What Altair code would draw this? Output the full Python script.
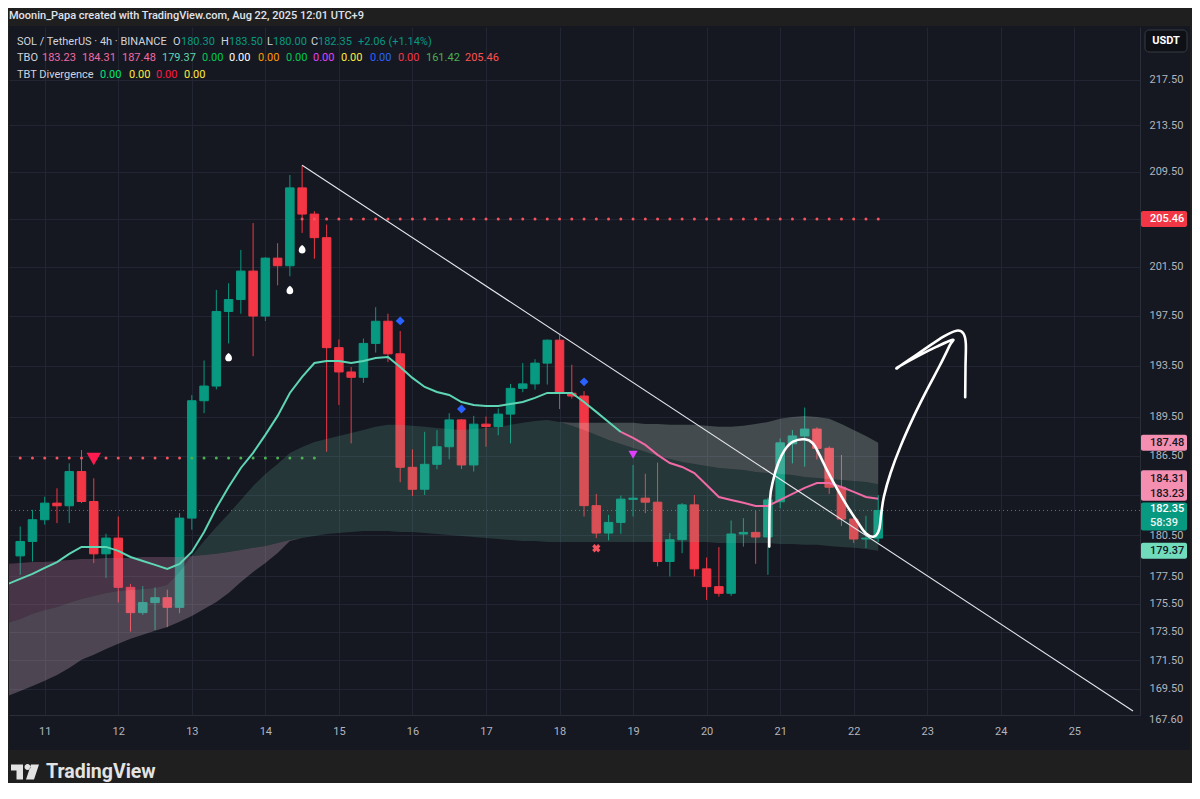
import altair as alt
import pandas as pd

# ---------------- values ----------------
first_candle = "2025-08-10 16:00"      # 4h candles, shown in UTC+9
axis_origin = "2025-08-11 00:00"       # the "11" tick on the time axis
tbo_start = "2025-08-10 12:00"         # indicator values start one bar earlier

opens = [178.99, 180.05, 181.66, 182.90, 182.70, 185.28, 183.02, 179.14, 180.30, 176.70,
         174.88, 175.60, 175.95, 175.26, 181.78, 190.73, 191.88, 197.83, 198.80, 201.13,
         197.46, 202.20, 201.57, 208.10, 205.88, 203.90, 194.92, 192.99, 192.57, 195.26,
         197.04, 194.43, 185.60, 183.94, 185.83, 187.17, 189.24, 185.78, 188.91, 188.73,
         189.69, 191.70, 192.05, 193.69, 195.52, 191.32, 191.10, 182.71, 180.67, 181.46,
         183.18, 183.27, 182.97, 178.58, 180.18, 182.77, 178.04, 176.75, 176.27, 180.60,
         180.72, 180.38, 183.00, 187.40, 188.00, 188.53, 187.05, 184.09, 181.71, 180.23, 180.30]
highs = [181.16, 182.40, 183.38, 184.01, 185.90, 186.92, 184.77, 180.62, 181.90, 176.95,
         176.80, 176.70, 176.53, 182.15, 191.17, 193.90, 199.59, 200.13, 202.88, 205.12,
         202.28, 203.44, 209.20, 210.04, 206.12, 205.00, 195.57, 193.38, 195.65, 198.18,
         197.65, 196.25, 186.97, 188.32, 188.45, 189.76, 189.30, 189.55, 189.50, 190.13,
         192.05, 193.69, 194.00, 195.57, 195.93, 193.56, 191.48, 183.59, 182.02, 183.47,
         185.78, 185.11, 185.96, 180.67, 182.90, 183.51, 178.87, 179.63, 181.60, 181.78,
         182.32, 183.30, 187.80, 188.45, 190.20, 188.66, 187.20, 186.54, 182.00, 181.95, 183.50]
lows = [177.61, 178.58, 181.29, 181.41, 181.41, 182.90, 178.46, 177.37, 175.60, 173.53,
        174.72, 173.65, 173.84, 174.84, 180.92, 189.76, 191.62, 195.26, 197.65, 194.24,
        197.06, 199.96, 200.70, 204.30, 202.15, 186.79, 190.40, 187.43, 192.13, 194.53,
        193.77, 184.47, 183.44, 183.51, 185.45, 186.21, 185.47, 185.28, 187.17, 188.05,
        187.43, 191.40, 191.60, 192.00, 190.08, 190.90, 181.90, 180.30, 180.13, 180.62,
        181.90, 182.15, 178.22, 177.49, 179.19, 177.49, 175.79, 176.03, 176.08, 179.67,
        178.41, 177.61, 182.52, 185.90, 185.65, 186.20, 183.59, 181.20, 179.94, 179.56, 180.00]
closes = [180.05, 181.66, 182.90, 182.70, 185.28, 183.02, 179.14, 180.30, 176.70, 174.88,
          175.60, 175.95, 175.26, 181.78, 190.73, 191.88, 197.83, 198.80, 201.13, 197.46,
          202.20, 201.57, 208.10, 205.88, 203.90, 194.92, 192.99, 192.57, 195.26, 197.04,
          194.43, 185.60, 183.94, 185.83, 187.17, 189.24, 185.78, 188.91, 188.73, 189.69,
          191.70, 192.05, 193.69, 195.52, 191.32, 191.10, 182.71, 180.67, 181.46, 183.20,
          183.27, 182.97, 178.58, 180.18, 182.77, 178.04, 176.75, 176.27, 180.60, 180.72,
          180.38, 183.14, 187.47, 188.00, 188.53, 187.05, 184.09, 181.71, 180.23, 180.30, 182.35]

tbo_fast = [176.95, 177.31, 177.67, 178.11, 178.54, 179.14, 179.65, 179.65, 179.65, 179.36,
            178.91, 178.62, 178.33, 178.03, 178.40, 179.28, 180.75, 182.54, 184.11, 185.55,
            186.70, 188.08, 189.55, 191.34, 192.60, 193.70, 193.86, 193.86, 193.70, 193.86,
            194.10, 194.18, 193.39, 192.52, 191.81, 191.41, 191.18, 190.63, 190.40, 190.32,
            190.32, 190.48, 190.63, 190.95, 191.34, 191.34, 191.34, 190.63, 189.86, 189.08,
            188.31, 187.85, 187.31, 186.55, 185.93, 185.63, 185.17, 184.26, 183.36, 183.14,
            182.92, 182.69, 182.69, 183.14, 183.59, 184.04, 184.41, 184.41, 184.11, 183.74,
            183.36, 183.23]
tbo_mid = [174.15, 174.43, 174.79, 175.07, 175.29, 175.58, 175.86, 176.07, 176.29, 176.44,
           176.51, 176.58, 176.66, 176.88, 177.82, 178.98, 180.09, 181.12, 182.09, 183.14,
           184.19, 185.10, 185.86, 186.70, 187.16, 187.54, 187.77, 188.00, 188.23, 188.46,
           188.70, 188.86, 188.86, 188.78, 188.70, 188.62, 188.54, 188.46, 188.54, 188.62,
           188.70, 188.86, 189.01, 189.16, 189.24, 189.08, 188.78, 188.46, 188.08, 187.69,
           187.38, 187.08, 186.78, 186.47, 186.24, 186.01, 185.86, 185.70, 185.55, 185.48,
           185.40, 185.25, 185.17, 185.10, 185.02, 184.87, 184.79, 184.72, 184.64, 184.56,
           184.49, 184.31]
tbo_slow = [169.02, 169.36, 169.71, 170.06, 170.47, 170.96, 171.53, 171.88, 172.30, 172.66,
            173.01, 173.30, 173.58, 173.86, 174.22, 174.64, 175.14, 175.65, 176.29, 177.09,
            177.82, 178.47, 179.21, 180.09, 181.05, 181.86, 182.47, 182.92, 183.36, 183.89,
            184.26, 184.56, 184.79, 185.10, 185.40, 185.63, 185.93, 186.16, 186.47, 186.85,
            187.23, 187.61, 188.00, 188.31, 188.62, 188.86, 189.01, 189.01, 189.01, 189.01,
            189.01, 189.01, 188.93, 188.93, 188.86, 188.86, 188.86, 188.78, 188.70, 188.70,
            188.78, 188.93, 189.08, 189.32, 189.47, 189.55, 189.47, 189.32, 188.93, 188.46,
            188.00, 187.48]
tbo_base = [178.40, 178.47, 178.54, 178.54, 178.62, 178.69, 178.76, 178.76, 178.84, 178.84,
            178.84, 178.91, 178.91, 178.91, 178.91, 178.98, 179.06, 179.14, 179.28, 179.43,
            179.58, 179.72, 179.94, 180.16, 180.31, 180.46, 180.60, 180.68, 180.75, 180.83,
            180.83, 180.83, 180.75, 180.75, 180.68, 180.60, 180.53, 180.46, 180.38, 180.31,
            180.23, 180.16, 180.09, 180.09, 180.01, 180.01, 180.01, 180.01, 180.01, 180.01,
            180.01, 180.01, 180.01, 180.01, 180.01, 180.01, 180.01, 180.01, 179.94, 179.94,
            179.94, 179.94, 179.94, 179.87, 179.87, 179.80, 179.80, 179.72, 179.65, 179.58,
            179.50, 179.37]
fast_turns_pink = "2025-08-18 20:00"

resistance_level = 205.46
resistance_from = "2025-08-14 12:00"
support_level = 186.31
support_red_until = "2025-08-12 20:00"
support_green_until = "2025-08-14 16:00"
last_close = 182.35

sell_time, sell_price = ["2025-08-11 16:00"], [186.24]
drop_times, drop_prices = ["2025-08-13 12:00", "2025-08-14 08:00", "2025-08-14 12:00"], [194.17, 199.58, 202.94]
diamond_times, diamond_prices = ["2025-08-15 20:00", "2025-08-16 16:00", "2025-08-18 08:00"], [197.07, 190.09, 192.21]
purple_time, purple_price = ["2025-08-19 00:00"], [186.55]
cross_time, cross_price = ["2025-08-18 12:00"], [179.55]

trend_times = ["2025-08-14 12:00", "2025-08-25 19:09"]
trend_prices = [210.04, 167.98]

sketch_day = [9.852, 9.861, 9.906, 9.973, 10.063, 10.175, 10.333, 10.445, 10.535, 10.647,
              10.782, 10.916, 11.051, 11.163, 11.276, 11.344, 11.375, 11.411, 11.500, 11.635,
              11.815, 11.995, 12.174, 12.309, 12.345, 12.129, 11.860, 11.613, 11.590, 11.681,
              11.950, 12.220, 12.399, 12.489, 12.524, 12.520, 12.516]
sketch_price = [179.67, 183.14, 184.64, 185.91, 186.93, 187.56, 187.74, 187.43, 186.55, 185.27,
                183.89, 182.64, 181.51, 180.66, 180.41, 180.90, 182.14, 183.39, 185.15, 187.18,
                189.49, 191.57, 193.54, 195.14, 195.54, 195.00, 194.21, 193.41, 193.28, 193.68,
                194.74, 195.81, 196.28, 196.07, 195.28, 193.41, 191.00]

day_labels = [str(d) for d in range(11, 26)]
price_ticks = [169.5, 171.5, 173.5, 175.5, 177.5, 180.5, 183.5, 186.5, 189.5,
               193.5, 197.5, 201.5, 205.5, 209.5, 213.5, 217.5]

# ---------------- styling ----------------
FONT = "Roboto"
FS = 11
PANE = "#151821"
OUTER = "#1f1f1f"
GRID = "#222633"
LBL = "#b2b5be"
TXT = "#d1d4dc"
UP = "#089981"
DOWN = "#f23645"
PINK = "#f06aa6"
MINT = "#5ed6b4"

origin = pd.Timestamp(axis_origin)


def to_day(ts):
    return (pd.to_datetime(pd.Series(ts)) - origin) / pd.Timedelta(days=1)


x_scale = alt.Scale(domain=[-0.41779, 14.8248], nice=False, zero=False)
y_scale = alt.Scale(type="log", domain=[167.70, 222.27], nice=False, zero=False)
x_axis = alt.Axis(values=list(range(len(day_labels))),
                  labelExpr="'' + (datum.value + 11)", grid=True, gridColor=GRID,
                  tickSize=0, labelPadding=10, labelColor=LBL, labelFont=FONT,
                  labelFontSize=FS, domainColor="#2a2e39", labelOverlap=False,
                  labelFlush=False)
y_axis = alt.Axis(orient="right", values=price_ticks,
                  labelExpr="(datum.value == 183.5 || datum.value == 205.5) ? '' : format(datum.value, '.2f')",
                  grid=True, gridColor=GRID, tickSize=0, labelPadding=9, labelColor=LBL,
                  labelFont=FONT, labelFontSize=FS, domainColor="#2a2e39",
                  labelOverlap=False, labelFlush=False)


def X(f):
    return alt.X(f, type="quantitative", scale=x_scale, axis=x_axis, title=None)


def Y(f):
    return alt.Y(f, type="quantitative", scale=y_scale, axis=y_axis, title=None)


# ---------------- tables ----------------
times = pd.date_range(first_candle, periods=len(opens), freq="4h")
cdf = pd.DataFrame({"day": to_day(times).values, "o": opens, "h": highs, "l": lows, "c": closes})
cdf["col"] = [UP if c >= o else DOWN for o, c in zip(opens, closes)]

ltimes = pd.date_range(tbo_start, periods=len(tbo_fast), freq="4h")
ldf = pd.DataFrame({"t": ltimes, "day": to_day(ltimes).values, "fast": tbo_fast,
                    "mid": tbo_mid, "slow": tbo_slow, "base": tbo_base})
lo_mb = ldf[["mid", "base"]].min(axis=1)
ldf["t_top"] = ldf[["mid", "base"]].max(axis=1)
ldf["g_top"] = ldf[["slow", "mid"]].max(axis=1)
ldf["mu_bot"] = lo_mb
ldf["ml_top"] = lo_mb
ldf["ml_bot"] = pd.concat([ldf["slow"], lo_mb], axis=1).min(axis=1)
pink_t = pd.Timestamp(fast_turns_pink)
fast_teal = ldf[ldf["t"] <= pink_t]
fast_pink = ldf[ldf["t"] >= pink_t]

ctimes = pd.Series(times)
res = pd.DataFrame({"day": to_day(ctimes[ctimes >= pd.Timestamp(resistance_from)]).values})
res["p"] = resistance_level
sup_t = ctimes[ctimes <= pd.Timestamp(support_green_until)]
sup = pd.DataFrame({"day": to_day(sup_t).values, "p": support_level,
                    "col": ["#f7525f" if t <= pd.Timestamp(support_red_until) else "#4caf50" for t in sup_t]})


def pts(ts, ps):
    return pd.DataFrame({"day": to_day(ts).values, "p": ps})


trend = pts(trend_times, trend_prices)
sketch = pd.DataFrame({"day": sketch_day, "p": sketch_price, "i": range(len(sketch_day))})

# ---------------- layers ----------------
one = pd.DataFrame({"k": [0]})
frame = [
    alt.Chart(one).mark_rect(color=OUTER).encode(x=alt.value(-1), x2=alt.value(1183), y=alt.value(-19), y2=alt.value(-1)),
    alt.Chart(one).mark_rect(color=OUTER).encode(x=alt.value(-1), x2=alt.value(1183), y=alt.value(723), y2=alt.value(760)),
    alt.Chart(one).mark_rect(color=OUTER).encode(x=alt.value(1181), x2=alt.value(1183), y=alt.value(-19), y2=alt.value(760)),
    alt.Chart(one).mark_rect(color=OUTER).encode(x=alt.value(-1), x2=alt.value(0), y=alt.value(-19), y2=alt.value(760)),
]

price_line = alt.Chart(pd.DataFrame({"p": [last_close]})).mark_rule(
    color=UP, strokeDash=[1, 3], strokeWidth=1).encode(y=Y("p"))

wicks = alt.Chart(cdf).mark_rule(strokeWidth=1).encode(
    x=X("day"), y=Y("l"), y2=alt.Y2("h"), color=alt.Color("col:N", scale=None))
bodies = alt.Chart(cdf).mark_bar(width=8.5, strokeWidth=1).encode(
    x=X("day"), y=Y("o"), y2=alt.Y2("c"), color=alt.Color("col:N", scale=None),
    stroke=alt.Stroke("col:N", scale=None))


def band(top, bot, color, op):
    return alt.Chart(ldf).mark_area(color=color, opacity=op, clip=True).encode(
        x=X("day"), y=Y(top), y2=alt.Y2(bot))


fills = [
    band("t_top", "base", "#68c19f", 0.19),
    band("g_top", "mid", "#d3e3da", 0.25),
    band("base", "mu_bot", "#bd789a", 0.3),
    band("ml_top", "ml_bot", "#d1b4c2", 0.3),
]

fast1 = alt.Chart(fast_teal).mark_line(color=MINT, strokeWidth=2, clip=True).encode(x=X("day"), y=Y("fast"))
fast2 = alt.Chart(fast_pink).mark_line(color=PINK, strokeWidth=2, clip=True).encode(x=X("day"), y=Y("fast"))

res_dots = alt.Chart(res).mark_circle(size=9, color="#f7525f", opacity=1).encode(x=X("day"), y=Y("p"))
sup_dots = alt.Chart(sup).mark_circle(size=9, opacity=1).encode(
    x=X("day"), y=Y("p"), color=alt.Color("col:N", scale=None))

drop_path = ("M0,-1 C0.45,-0.65 0.8,-0.35 0.8,0.25 C0.8,0.8 0.45,1 0,1 "
             "C-0.45,1 -0.8,0.8 -0.8,0.25 C-0.8,-0.35 -0.45,-0.65 0,-1 Z")
markers = [
    alt.Chart(pts(sell_time, sell_price)).mark_point(shape="triangle-down", filled=True, size=210,
                                                     color="#ff1a4f", opacity=1).encode(x=X("day"), y=Y("p")),
    alt.Chart(pts(drop_times, drop_prices)).mark_point(shape=drop_path, filled=True, size=70,
                                                       color="#ffffff", opacity=1).encode(x=X("day"), y=Y("p")),
    alt.Chart(pts(diamond_times, diamond_prices)).mark_point(shape="diamond", filled=True, size=80,
                                                             color="#2962ff", opacity=1).encode(x=X("day"), y=Y("p")),
    alt.Chart(pts(purple_time, purple_price)).mark_point(shape="triangle-down", filled=True, size=85,
                                                         color="#e040fb", opacity=1).encode(x=X("day"), y=Y("p")),
    alt.Chart(pts(cross_time, cross_price)).mark_point(shape="cross", angle=45, filled=True, size=70,
                                                       color="#f7525f", opacity=1).encode(x=X("day"), y=Y("p")),
]

trend_line = alt.Chart(trend).mark_line(color="#e6e8ee", strokeWidth=1.1, clip=True).encode(x=X("day"), y=Y("p"))
sketch_line = alt.Chart(sketch).mark_line(color="#ffffff", strokeWidth=2.6, interpolate="cardinal",
                                          strokeCap="round", strokeJoin="round").encode(
    x=X("day"), y=Y("p"), order=alt.Order("i:Q"))


# ---------------- price-scale labels ----------------
def box(p1, p2, fill, off1, off2):
    d = pd.DataFrame({"p1": [p1], "p2": [p2]})
    return alt.Chart(d).mark_rect(color=fill, yOffset=off1, y2Offset=off2, cornerRadius=2).encode(
        x=alt.value(1132), x2=alt.value(1178), y=Y("p1"), y2=alt.Y2("p2"))


def boxtext(p, s, color, dy):
    d = pd.DataFrame({"p": [p], "s": [s]})
    return alt.Chart(d).mark_text(align="left", baseline="middle", dy=dy, font=FONT, fontSize=FS,
                                  fontWeight=500, color=color).encode(
        x=alt.value(1141), y=Y("p"), text="s:N")


scale_labels = [
    box(resistance_level, resistance_level, "#f23645", -8, 8),
    boxtext(resistance_level, f"{resistance_level:.2f}", "#ffffff", 0),
    box(tbo_slow[-1], tbo_slow[-1], "#f48fb1", -8, 8),
    boxtext(tbo_slow[-1], f"{tbo_slow[-1]:.2f}", "#131722", 0),
    box(tbo_mid[-1], tbo_fast[-1], "#f48fb1", -14, 2),
    boxtext(tbo_mid[-1], f"{tbo_mid[-1]:.2f}", "#131722", -5),
    boxtext(tbo_fast[-1], f"{tbo_fast[-1]:.2f}", "#131722", -5),
    box(last_close, last_close, UP, -8, 20),
    boxtext(last_close, f"{last_close:.2f}", "#ffffff", -1),
    boxtext(last_close, "58:39", "#e8f5f2", 13),
    box(tbo_base[-1], tbo_base[-1], "#70dcbc", -8, 8),
    boxtext(tbo_base[-1], f"{tbo_base[-1]:.2f}", "#131722", 0),
]

usdt = [
    alt.Chart(one).mark_rect(color="#0e1015", stroke="#363a45", strokeWidth=1, cornerRadius=4).encode(
        x=alt.value(1136), x2=alt.value(1178), y=alt.value(3), y2=alt.value(25)),
    alt.Chart(one).mark_text(text="USDT", font=FONT, fontSize=FS, fontWeight="bold", color="#ffffff",
                             align="center", baseline="middle").encode(x=alt.value(1157), y=alt.value(14)),
]

# ---------------- header / legend texts ----------------
vals = {"o": "180.30", "h": "183.50", "l": "180.00", "c": "182.35", "chg": "+2.06 (+1.14%)"}
rows = [
    (8, 15, "SOL / TetherUS · 4h · BINANCE", TXT),
    (164, 15, "O", TXT), (172, 15, vals["o"], UP),
    (212, 15, "H", TXT), (220, 15, vals["h"], UP),
    (258, 15, "L", TXT), (264, 15, vals["l"], UP),
    (302, 15, "C", TXT), (309, 15, vals["c"], UP),
    (349, 15, vals["chg"], UP),
    (8, 31, "TBO", TXT), (33, 31, "183.23", PINK), (73, 31, "184.31", PINK), (113, 31, "187.48", PINK),
    (153, 31, "179.37", MINT), (193, 31, "0.00", "#00c853"), (220, 31, "0.00", "#ffffff"),
    (249, 31, "0.00", "#ff9800"), (277, 31, "0.00", "#00c853"), (304, 31, "0.00", "#e040fb"),
    (332, 31, "0.00", "#ffeb3b"), (361, 31, "0.00", "#2962ff"), (389, 31, "0.00", "#f23645"),
    (417, 31, "161.42", "#4caf50"), (456, 31, "205.46", "#ff5252"),
    (8, 48, "TBT Divergence", TXT), (91, 48, "0.00", "#00e676"), (120, 48, "0.00", "#ffeb3b"),
    (147, 48, "0.00", "#ff1744"), (175, 48, "0.00", "#ffeb3b"),
    (1140, 693, "167.60", LBL),
]
tdf = pd.DataFrame(rows, columns=["px", "py", "s", "c"])
legend_text = alt.Chart(tdf).mark_text(align="left", baseline="middle", font=FONT, fontSize=FS).encode(
    x=alt.X("px:Q", scale=None, axis=None), y=alt.Y("py:Q", scale=None, axis=None),
    text="s:N", color=alt.Color("c:N", scale=None))

header = alt.Chart(one).mark_text(text="Moonin_Papa created with TradingView.com, Aug 22, 2025 12:01 UTC+9",
                                  align="left", baseline="middle", font=FONT, fontSize=11,
                                  fontWeight=500, color="#e0e3eb").encode(x=alt.value(0), y=alt.value(-11))

logo_path = ("M-0.875,-0.469 L-0.125,-0.469 L-0.125,0.469 L-0.531,0.469 L-0.531,-0.094 L-0.875,-0.094 Z "
             "M-0.031,-0.3125 A0.1875,0.1875 0 1,0 0.344,-0.3125 A0.1875,0.1875 0 1,0 -0.031,-0.3125 Z "
             "M0.375,-0.469 L0.875,-0.469 L0.5625,0.469 L0.0625,0.469 Z")
logo = [
    alt.Chart(one).mark_point(shape=logo_path, filled=True, size=1024, color="#e3e3e3", opacity=1).encode(
        x=alt.value(16), y=alt.value(745)),
    alt.Chart(one).mark_text(text="TradingView", align="left", baseline="middle", font=FONT, fontSize=19.5,
                             fontWeight="bold", color="#e3e3e3").encode(x=alt.value(37), y=alt.value(745)),
]

chart = alt.layer(
    price_line, wicks, bodies, *fills, fast1, fast2, res_dots, sup_dots, *markers,
    trend_line, sketch_line, *frame, *scale_labels, *usdt, legend_text, header, *logo
).properties(
    width=1131, height=688,
    autosize=alt.AutoSizeParams(type="none"),
    padding={"left": 1, "top": 19, "right": 52, "bottom": 68},
).configure(background=PANE).configure_view(strokeWidth=0)

chart.save("out.html", embed_options={"renderer": "svg", "actions": False})
